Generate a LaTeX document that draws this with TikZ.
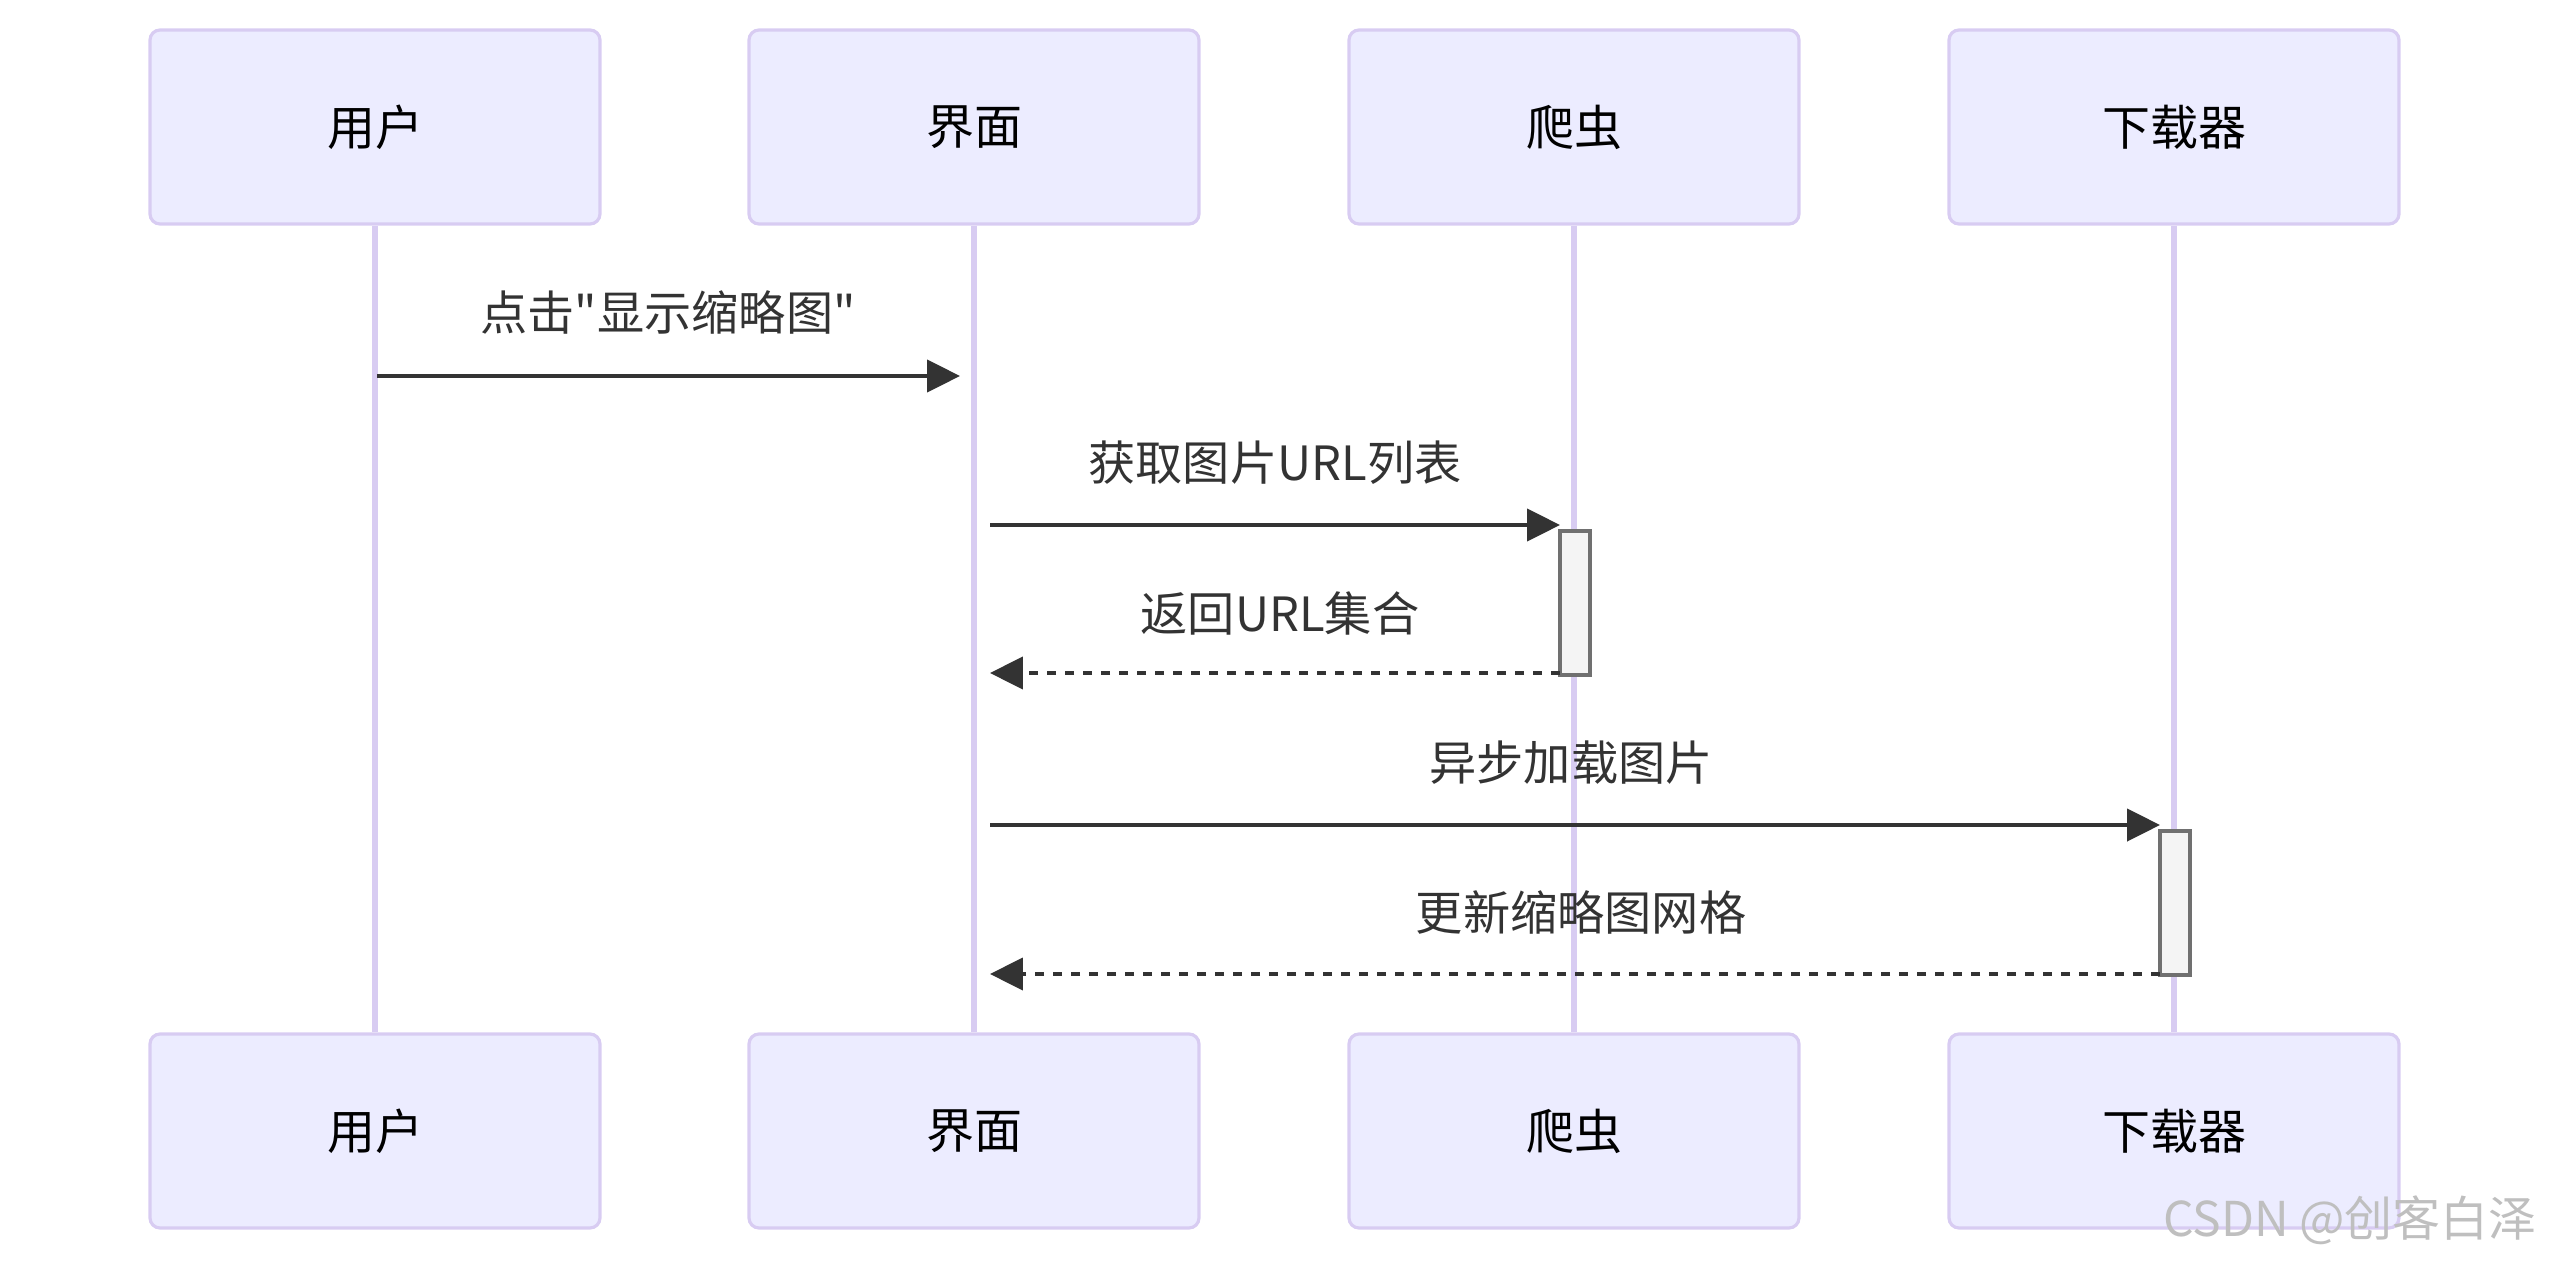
\documentclass[tikz,border=0pt]{standalone}
\usepackage{fontspec}
\setmainfont[Ligatures=TeXOff]{Noto Sans CJK SC}
\usepackage{xcolor}
\usepackage{tikz}
\usetikzlibrary{arrows.meta}
\definecolor{actfill}{HTML}{ECECFF}
\definecolor{actline}{HTML}{D8CCF2}
\definecolor{msgcol}{HTML}{333333}
\definecolor{actvfill}{HTML}{F4F4F4}
\definecolor{actvline}{HTML}{707070}
\tikzset{
  actor/.style={
    draw=actline, fill=actfill, line width=0.8pt, rounded corners=2.5pt,
    minimum width=112.5pt, minimum height=48.5pt, inner sep=0pt,
    font=\fontsize{12}{14}\selectfont, text=black
  },
  lifeline/.style={draw=actline, line width=1.3pt},
  activation/.style={
    draw=actvline, fill=actvfill, line width=0.8pt,
    minimum width=7.5pt, minimum height=36pt, inner sep=0pt
  },
  msg/.style={draw=msgcol, line width=0.95pt, -{Triangle[length=8.2pt,width=8pt]}},
  reply/.style={msg, dash pattern=on 2.3pt off 2.2pt},
  msglabel/.style={font=\fontsize{11.8}{14}\selectfont, text=msgcol, inner sep=0pt},
  watermark/.style={font=\fontsize{12}{14}\selectfont, text=black!25, inner sep=0pt}
}

\begin{document}
\begin{tikzpicture}[x=0.25pt,y=-0.25pt]
		\useasboundingbox (0,0) rectangle (2550,1263);
		\def\ytop{127}
		\def\ybot{1131}
		% actors, top and bottom
		\node[actor] (yh1) at (375,\ytop) {用户};
		\node[actor] (jm1) at (974,\ytop) {界面};
		\node[actor] (pc1) at (1574,\ytop) {爬虫};
		\node[actor] (xz1) at (2174,\ytop) {下载器};
		\node[actor] (yh2) at (375,\ybot) {用户};
		\node[actor] (jm2) at (974,\ybot) {界面};
		\node[actor] (pc2) at (1574,\ybot) {爬虫};
		\node[actor] (xz2) at (2174,\ybot) {下载器};
		%
		\draw[lifeline] (yh1.south) -- (yh2.north);
		\draw[lifeline] (jm1.south) -- (jm2.north);
		\draw[lifeline] (pc1.south) -- (pc2.north);
		\draw[lifeline] (xz1.south) -- (xz2.north);
		%
		\node[activation] (act1) at (1575,603) {};
		\node[activation] (act2) at (2175,903) {};
		% message ends
		\coordinate (u1) at (377,376);
		\coordinate (j1) at (960,376);
		\coordinate (j2) at (990,525);
		\coordinate (p2) at (1560,525);
		\coordinate (p3) at (1560,673);
		\coordinate (j3) at (990,673);
		\coordinate (j4) at (990,825);
		\coordinate (x4) at (2160,825);
		\coordinate (x5) at (2160,974);
		\coordinate (j5) at (990,974);
		%
		\draw[msg] (u1) -- (j1);
		\draw[msg] (j2) -- (p2);
		\draw[reply] (p3) -- (j3);
		\draw[msg] (j4) -- (x4);
		\draw[reply] (x5) -- (j5);
		%
		\node[msglabel] (t1) at (668,312) {点击"显示缩略图"};
		\node[msglabel] (t2) at (1275,463) {获取图片URL列表};
		\node[msglabel] (t3) at (1280,613) {返回URL集合};
		\node[msglabel] (t4) at (1571,763) {异步加载图片};
		\node[msglabel] (t5) at (1581,912) {更新缩略图网格};
		%
		\node[watermark] (wm) at (2350,1220) {CSDN @创客白泽};
	\end{tikzpicture}
\end{document}
